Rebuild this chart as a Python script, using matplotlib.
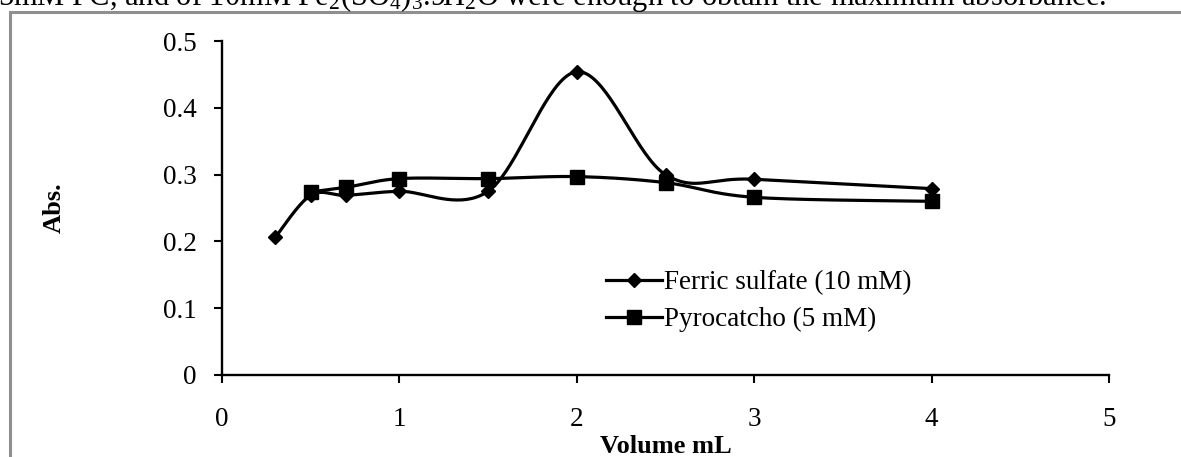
#!/usr/bin/env python3
import matplotlib
matplotlib.use("Agg")
import matplotlib.pyplot as plt
from matplotlib.lines import Line2D
from matplotlib.patches import Rectangle
import numpy as np

# values
ferric_x = [0.3, 0.5, 0.7, 1.0, 1.5, 2.0, 2.5, 3.0, 4.0]
ferric_y = [0.206, 0.269, 0.269, 0.275, 0.275, 0.454, 0.300, 0.293, 0.279]
pyro_x = [0.5, 0.7, 1.0, 1.5, 2.0, 2.5, 3.0, 4.0]
pyro_y = [0.274, 0.281, 0.294, 0.294, 0.297, 0.288, 0.266, 0.260]

ferric_label = "Ferric sulfate (10 mM)"
pyro_label = "Pyrocatcho (5 mM)"
x_ticks = [0, 1, 2, 3, 4, 5]
y_ticks = [0, 0.1, 0.2, 0.3, 0.4, 0.5]
y_tick_labels = ["0", "0.1", "0.2", "0.3", "0.4", "0.5"]
caption = ("5mM PC, and of 10mM Fe$_2$(SO$_4$)$_3$.9H$_2$O were enough "
           "to obtain the maximum absorbance.")

plt.rcParams["font.family"] = ["Liberation Serif", "DejaVu Serif"]
plt.rcParams["mathtext.fontset"] = "custom"
plt.rcParams["mathtext.rm"] = "Liberation Serif"
plt.rcParams["mathtext.it"] = "Liberation Serif:italic"


def smooth(xs, ys, n=40):
    # Excel-like smoothed line: cubic Bezier with Catmull-Rom tangents
    p = np.column_stack([xs, ys])
    out = [p[0]]
    for i in range(len(p) - 1):
        p0 = p[i - 1] if i > 0 else p[i]
        p1 = p[i]
        p2 = p[i + 1]
        p3 = p[i + 2] if i + 2 < len(p) else p[i + 1]
        c1 = p1 + (p2 - p0) / 6.0
        c2 = p2 - (p3 - p1) / 6.0
        t = np.linspace(0, 1, n)[1:, None]
        seg = ((1 - t) ** 3) * p1 + 3 * ((1 - t) ** 2) * t * c1 \
            + 3 * (1 - t) * t ** 2 * c2 + t ** 3 * p2
        out.extend(seg)
    out = np.array(out)
    return out[:, 0], out[:, 1]


W, H = 1181, 457
fig = plt.figure(figsize=(W / 100, H / 100), dpi=100)
ax = fig.add_axes([222 / W, 1 - 375 / H, (1109 - 222) / W, (375 - 41) / H])

LW = 2.3
sx, sy = smooth(ferric_x, ferric_y)
ax.plot(sx, sy, color="black", lw=LW, solid_capstyle="round")
ax.plot(ferric_x, ferric_y, ls="none", marker="D", ms=7.5, color="black")

sx, sy = smooth(pyro_x, pyro_y)
ax.plot(sx, sy, color="black", lw=LW, solid_capstyle="round")
ax.plot(pyro_x, pyro_y, ls="none", marker="s", ms=10.5, color="black")

ax.set_xlim(0, 5)
ax.set_ylim(0, 0.5)
ax.set_xticks(x_ticks)
ax.set_yticks(y_ticks)
ax.set_yticklabels(y_tick_labels)
ax.spines["top"].set_visible(False)
ax.spines["right"].set_visible(False)
for s in ("left", "bottom"):
    ax.spines[s].set_linewidth(1.7)
ax.tick_params(axis="both", direction="out", length=6, width=1.5,
               labelsize=19.5, colors="black")
ax.tick_params(axis="x", pad=17)
ax.tick_params(axis="y", pad=12)

ax.set_xlabel("Volume mL", fontsize=19, fontweight="bold", labelpad=2)
ax.set_ylabel("Abs.", fontsize=19, fontweight="bold", labelpad=70)

handles = [
    Line2D([], [], color="black", lw=LW, marker="D", ms=7.5),
    Line2D([], [], color="black", lw=LW, marker="s", ms=10.5),
]
fig.legend(handles, [ferric_label, pyro_label], loc="upper left",
           bbox_to_anchor=(606 / W, 1 - 270 / H), frameon=False,
           fontsize=19.5, handlelength=2.05, handletextpad=0.1,
           labelspacing=0.45, borderpad=0, borderaxespad=0)

# frame of the document figure and the clipped caption line above it
fig.patches.append(Rectangle((10 / W, -0.1), (W + 20) / W, 1 - 12 / H + 0.1,
                             transform=fig.transFigure, fill=False,
                             edgecolor="#8f8f8f", lw=2.2))
fig.text(-2 / W, 1 - 5 / H, caption, fontsize=22, ha="left",
         va="baseline", color="black")

fig.savefig("out.png", dpi=100)
